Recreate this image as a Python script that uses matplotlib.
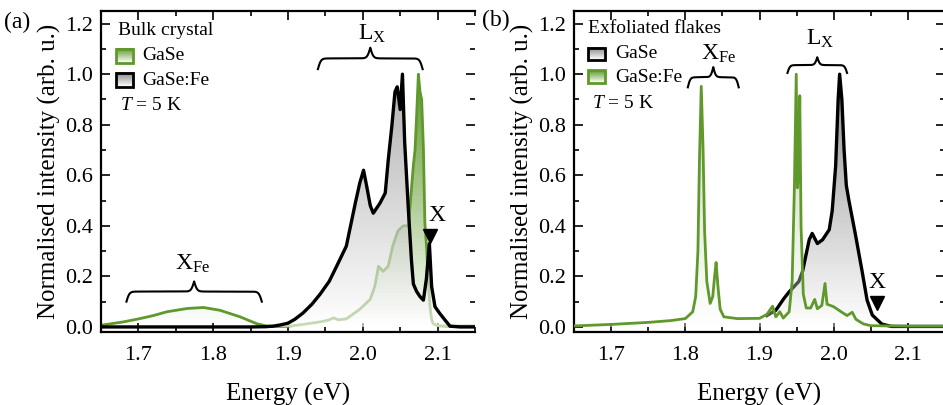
import numpy as np
import matplotlib
matplotlib.use("Agg")
from matplotlib import pyplot as plt
from matplotlib.colors import LinearSegmentedColormap
from matplotlib.patches import Rectangle

plt.rcParams['font.family'] = ['Liberation Serif', 'DejaVu Serif']
plt.rcParams['mathtext.fontset'] = 'custom'
plt.rcParams['mathtext.rm'] = 'Liberation Serif'
plt.rcParams['mathtext.it'] = 'Liberation Serif:italic'

GREEN = '#5f992c'
GRAY_TOP = '#858585'

# ---- panel (a): bulk crystal ----
a_gase_e = [1.650, 1.653, 1.680, 1.702, 1.720, 1.738, 1.765, 1.787, 1.809, 1.836, 1.858, 1.871, 1.885,
            1.898, 1.920, 1.943, 1.955, 1.961, 1.967, 1.978, 1.996, 2.010, 2.016, 2.021, 2.027, 2.034,
            2.040, 2.047, 2.054, 2.061, 2.0635, 2.0676, 2.0698, 2.072, 2.0743, 2.0765, 2.0787, 2.081,
            2.083, 2.0854, 2.0876, 2.090, 2.092, 2.094, 2.100, 2.120, 2.150]
a_gase_i = [0.007, 0.008, 0.020, 0.033, 0.045, 0.060, 0.073, 0.077, 0.066, 0.040, 0.013, 0.004, 0.002,
            0.002, 0.010, 0.020, 0.028, 0.036, 0.028, 0.032, 0.070, 0.110, 0.160, 0.240, 0.220, 0.240,
            0.320, 0.380, 0.400, 0.400, 0.490, 0.640, 0.700, 0.840, 1.000, 0.930, 0.900, 0.710,
            0.410, 0.310, 0.180, 0.075, 0.030, 0.013, 0.005, 0.003, 0.003]

a_fe_e = [1.650, 1.750, 1.850, 1.870, 1.880, 1.890, 1.900, 1.909, 1.920, 1.932, 1.943, 1.955, 1.965,
          1.978, 1.990, 1.996, 2.001, 2.005, 2.010, 2.014, 2.023, 2.030, 2.034, 2.039, 2.043, 2.046,
          2.050, 2.053, 2.056, 2.061, 2.065, 2.0676, 2.072, 2.0765, 2.081, 2.085, 2.089, 2.092,
          2.0965, 2.103, 2.110, 2.1166, 2.130, 2.150]
a_fe_i = [0.000, 0.000, 0.000, 0.001, 0.003, 0.008, 0.015, 0.030, 0.055, 0.090, 0.130, 0.180, 0.240,
          0.320, 0.490, 0.570, 0.620, 0.560, 0.480, 0.450, 0.490, 0.530, 0.660, 0.800, 0.930, 0.950,
          0.860, 1.000, 0.730, 0.460, 0.265, 0.170, 0.140, 0.120, 0.106, 0.190, 0.330, 0.160,
          0.080, 0.053, 0.027, 0.003, 0.000, 0.000]

# ---- panel (b): exfoliated flakes ----
b_gase_e = [1.650, 1.750, 1.800, 1.850, 1.900, 1.910, 1.922, 1.933, 1.940, 1.953, 1.958, 1.967, 1.971,
            1.978, 1.985, 1.994, 1.998, 2.0026, 2.006, 2.008, 2.011, 2.014, 2.017, 2.0205, 2.029,
            2.038, 2.045, 2.052, 2.065, 2.078, 2.150]
b_gase_i = [0.004, 0.010, 0.020, 0.025, 0.030, 0.045, 0.066, 0.113, 0.139, 0.180, 0.220, 0.345, 0.370,
            0.330, 0.345, 0.385, 0.460, 0.636, 0.900, 1.000, 0.900, 0.700, 0.560, 0.500, 0.370,
            0.225, 0.106, 0.047, 0.011, 0.002, 0.002]

b_fe_e = [1.650, 1.700, 1.750, 1.780, 1.800, 1.810, 1.814, 1.817, 1.819, 1.8215, 1.824, 1.826, 1.829,
          1.8335, 1.837, 1.8395, 1.8415, 1.844, 1.847, 1.852, 1.870, 1.900, 1.910, 1.9176, 1.922,
          1.9274, 1.932, 1.940, 1.944, 1.947, 1.9495, 1.951, 1.9525, 1.9543, 1.956, 1.959, 1.963,
          1.969, 1.9744, 1.978, 1.984, 1.9883, 1.991, 2.000, 2.010, 2.018, 2.025, 2.030, 2.040, 2.050,
          2.100, 2.150]
b_fe_i = [0.004, 0.010, 0.018, 0.025, 0.033, 0.060, 0.120, 0.300, 0.650, 0.952, 0.700, 0.380, 0.180,
          0.093, 0.120, 0.200, 0.255, 0.160, 0.070, 0.040, 0.033, 0.034, 0.050, 0.082, 0.040,
          0.060, 0.035, 0.060, 0.180, 0.550, 1.000, 0.550, 0.600, 0.915, 0.400, 0.130, 0.075,
          0.075, 0.109, 0.072, 0.085, 0.172, 0.090, 0.080, 0.060, 0.045, 0.058, 0.030, 0.012, 0.005,
          0.003, 0.003]

xticks = [1.7, 1.8, 1.9, 2.0, 2.1]
yticks = [0.0, 0.2, 0.4, 0.6, 0.8, 1.0, 1.2]


def grad_fill(ax, x, y, color, alpha, zorder):
    x = np.asarray(x)
    y = np.asarray(y)
    poly = ax.fill_between(x, y, 0, facecolor='none', edgecolor='none')
    cmap = LinearSegmentedColormap.from_list('g', ['white', color])
    grad = np.linspace(0, 1, 60).reshape(-1, 1)
    img = ax.imshow(grad, extent=[x.min(), x.max(), 0, 1.0], aspect='auto', origin='lower',
                    cmap=cmap, alpha=alpha, zorder=zorder, interpolation='nearest')
    img.set_clip_path(poly.get_paths()[0], transform=ax.transData)


def legend_box(ax, x0, x1, y0, y1, color, edge):
    xl = ax.get_xlim()
    yl = ax.get_ylim()
    dx0 = xl[0] + x0 * (xl[1] - xl[0])
    dx1 = xl[0] + x1 * (xl[1] - xl[0])
    dy0 = yl[0] + y0 * (yl[1] - yl[0])
    dy1 = yl[0] + y1 * (yl[1] - yl[0])
    cmap = LinearSegmentedColormap.from_list('g', ['white', color])
    grad = np.linspace(0, 1, 20).reshape(-1, 1)
    ax.imshow(grad, extent=[dx0, dx1, dy0, dy1], aspect='auto', origin='lower', cmap=cmap,
              zorder=6, interpolation='bilinear')
    ax.add_patch(Rectangle((dx0, dy0), dx1 - dx0, dy1 - dy0, facecolor='none', edgecolor=edge,
                           lw=2.0, zorder=7))


def brace(ax, x0, x1, y0, h, hook=0.012):
    xm = (x0 + x1) / 2
    b = 6.0 / hook
    xs = np.linspace(x0, xm, 200)
    half = 1 / (1 + np.exp(-b * (xs - x0))) + 1 / (1 + np.exp(-b * (xs - xm)))
    xx = np.concatenate([xs, 2 * xm - xs[::-1]])
    yy = np.concatenate([half, half[::-1]])
    ax.plot(xx, y0 + (yy - 0.5) * h, color='k', lw=1.5, zorder=8)


def style(ax):
    ax.set_xlim(1.65, 2.15)
    ax.set_ylim(-0.02, 1.25)
    ax.set_xticks(xticks)
    ax.set_xticks(np.arange(1.65, 2.16, 0.05), minor=True)
    ax.set_yticks(yticks)
    ax.set_yticks(np.arange(0.0, 1.25, 0.1), minor=True)
    ax.set_xticklabels([f'{t:.1f}' for t in xticks])
    ax.set_yticklabels([f'{t:.1f}' for t in yticks])
    ax.tick_params(which='both', direction='in', top=True, right=True, width=1.2,
                   labelsize=16)
    ax.tick_params(which='major', length=6.5)
    ax.tick_params(which='minor', length=3.5)
    ax.tick_params(axis='x', pad=10)
    ax.tick_params(axis='y', pad=6)
    for s in ['left', 'bottom', 'top']:
        ax.spines[s].set_linewidth(1.6)
    ax.spines['right'].set_visible(False)
    ax.set_xlabel('Energy (eV)', fontsize=18, labelpad=13)
    ax.set_ylabel('Normalised intensity (arb. u.)', fontsize=18, labelpad=3)


fig = plt.figure(figsize=(9.43, 4.05), dpi=100)
ax1 = fig.add_axes([101 / 943, 73 / 405, 374 / 943, 321 / 405])
ax2 = fig.add_axes([574 / 943, 73 / 405, 371 / 943, 321 / 405])

# panel (a)
grad_fill(ax1, a_gase_e, a_gase_i, GREEN, 1.0, 1)
ax1.plot(a_gase_e, a_gase_i, color=GREEN, lw=2.0, zorder=2)
grad_fill(ax1, a_fe_e, a_fe_i, GRAY_TOP, 0.65, 3)
ax1.plot(a_fe_e, a_fe_i, color='k', lw=2.4, zorder=4)
style(ax1)

brace(ax1, 1.94, 2.08, 1.02, 0.085)
ax1.text(2.013, 1.16, r'L$_{\mathregular{X}}$', fontsize=17, ha='center', va='center')
brace(ax1, 1.684, 1.865, 0.10, 0.08)
ax1.text(1.773, 0.25, r'X$_{\mathregular{Fe}}$', fontsize=17, ha='center', va='center')
ax1.plot([2.090], [0.36], marker='v', ms=10, color='k', zorder=9)
ax1.text(2.099, 0.44, 'X', fontsize=17, ha='center', va='center')

ax1.text(0.045, 0.938, 'Bulk crystal', transform=ax1.transAxes, fontsize=14, va='center')
legend_box(ax1, 0.040, 0.0855, 0.838, 0.882, GREEN, GREEN)
ax1.text(0.110, 0.860, 'GaSe', transform=ax1.transAxes, fontsize=14, va='center')
legend_box(ax1, 0.040, 0.0855, 0.763, 0.807, GRAY_TOP, 'k')
ax1.text(0.110, 0.785, 'GaSe:Fe', transform=ax1.transAxes, fontsize=14, va='center')
ax1.text(0.051, 0.707, r'$\mathit{T}$ = 5 K', transform=ax1.transAxes, fontsize=14, va='center')

# panel (b)
grad_fill(ax2, b_gase_e, b_gase_i, GRAY_TOP, 0.9, 1)
b_vis = np.asarray(b_gase_e) >= 1.91
ax2.plot(np.asarray(b_gase_e)[b_vis], np.asarray(b_gase_i)[b_vis], color='k', lw=2.4, zorder=2)
grad_fill(ax2, b_fe_e, b_fe_i, GREEN, 0.35, 3)
ax2.plot(b_fe_e, b_fe_i, color=GREEN, lw=2.0, zorder=4)
style(ax2)

brace(ax2, 1.8034, 1.872, 0.948, 0.08, hook=0.01)
ax2.text(1.845, 1.08, r'X$_{\mathregular{Fe}}$', fontsize=17, ha='center', va='center')
brace(ax2, 1.9377, 2.018, 1.005, 0.062, hook=0.01)
ax2.text(1.982, 1.14, r'L$_{\mathregular{X}}$', fontsize=17, ha='center', va='center')
ax2.plot([2.058], [0.094], marker='v', ms=10, color='k', zorder=9)
ax2.text(2.058, 0.175, 'X', fontsize=17, ha='center', va='center')

ax2.text(0.038, 0.944, 'Exfoliated flakes', transform=ax2.transAxes, fontsize=14, va='center')
legend_box(ax2, 0.038, 0.083, 0.847, 0.885, GRAY_TOP, 'k')
ax2.text(0.110, 0.869, 'GaSe', transform=ax2.transAxes, fontsize=14, va='center')
legend_box(ax2, 0.038, 0.083, 0.776, 0.816, GREEN, GREEN)
ax2.text(0.110, 0.794, 'GaSe:Fe', transform=ax2.transAxes, fontsize=14, va='center')
ax2.text(0.048, 0.713, r'$\mathit{T}$ = 5 K', transform=ax2.transAxes, fontsize=14, va='center')

fig.text(4 / 943, 1 - 22 / 405, '(a)', fontsize=17, va='center')
fig.text(482 / 943, 1 - 20 / 405, '(b)', fontsize=17, va='center')

fig.savefig('out.png', dpi=100)
